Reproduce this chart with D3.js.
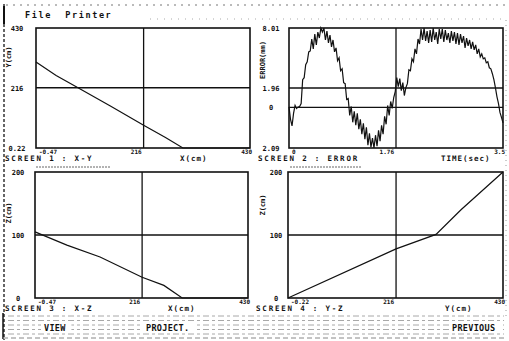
<!DOCTYPE html>
<html>
<head>
<meta charset="utf-8">
<script src="https://cdn.jsdelivr.net/npm/d3@7"></script>
<style>
	body { margin: 0; background: #fff; }
	svg { display: block; }
	text { font-family: 'DejaVu Sans Mono', monospace; font-weight: bold; fill: #111; }
</style>
</head>
<body>
<div id="screen"></div>
<script>
// screen 1 : X-Y
const xyX = [-0.47, 40, 84, 150, 216, 260, 295, 430];
const xyY = [308, 260, 216, 150, 82, 38, 0.22, 0.22];

// screen 2 : ERROR over time, one sample per step
const errorTimeMax = 3.52;
const errorValues = [
	0.05, -1.2, -1.87, -0.6, 0.2, -0.1, 0.05, 0.1, 0.4, 2.8,
	3.0, 4.3, 4.6, 5.6, 5.7, 6.9, 5.9, 7.4, 6.3, 7.6,
	7.0, 8.0, 7.6, 8.0, 6.8, 7.7, 6.5, 7.3, 6.1, 6.8,
	5.6, 6.0, 4.7, 5.0, 3.7, 3.9, 2.5, 2.4, 0.8, 0.9,
	-0.8, 0.1, -1.5, -0.4, -1.8, -0.6, -2.2, -1.2, -2.7, -1.6,
	-3.2, -2.0, -3.8, -2.6, -4.0, -3.1, -4.09, -2.8, -3.9, -2.3,
	-3.4, -1.8, -2.7, -0.9, -1.7, 0.2, -0.8, 0.6, -0.1, 1.0,
	1.6, 3.0, 2.1, 2.9, 1.7, 2.5, 1.2, 2.0, 2.4, 3.8,
	3.7, 4.9, 4.6, 5.9, 5.4, 6.9, 6.4, 7.9, 6.8, 8.0,
	6.7, 7.7, 6.5, 7.8, 6.6, 8.0, 6.8, 7.6, 6.4, 7.9,
	6.9, 7.9, 6.6, 7.8, 6.8, 7.5, 6.5, 7.7, 6.7, 7.6,
	6.4, 7.5, 6.3, 7.4, 6.5, 7.2, 6.0, 7.0, 6.2, 6.8,
	5.9, 6.6, 5.8, 6.3, 5.4, 5.9, 5.1, 5.4, 4.9, 5.0,
	4.5, 4.6, 4.0, 3.9, 3.4, 2.8, 2.0, 1.1, 0.4, -0.5,
	-1.0, -1.56
];

// screen 3 : X-Z
const xzX = [-0.47, 64, 131, 216, 260, 297, 430];
const xzZ = [105, 84, 65, 33, 20, 0, 0];

// screen 4 : Y-Z
const yzY = [-0.22, 216, 296, 346, 430];
const yzZ = [0, 78, 101, 140, 200];

// tick values and the labels printed for them
const xyXTicks = [-0.47, 216, 430], xyXLabels = ['-0.47', '216', '430'];
const xyYTicks = [0.22, 216, 430], xyYLabels = ['0.22', '216', '430'];
const errXTicks = [0, 1.76, 3.52], errXLabels = ['0', '1.76', '3.5'];
const errYTicks = [-4.09, 0, 1.96, 8.01], errYLabels = ['2.09', '0', '1.96', '8.01'];
const xzXTicks = [-0.47, 216, 430], xzXLabels = ['-0.47', '216', '430'];
const yzXTicks = [-0.22, 216, 430], yzXLabels = ['-0.22', '216', '430'];
const zTicks = [0, 100, 200], zLabels = ['0', '100', '200'];

const width = 509, height = 341;

const svg = d3.select('#screen').append('svg')
	.attr('width', width).attr('height', height);

const panels = [
	{ title: 'SCREEN 1 : X-Y', xName: 'X(cm)', yName: 'Y(cm)',
		box: [36, 250, 28, 148], xDomain: [-0.47, 430], yDomain: [0.22, 430],
		xs: xyX, ys: xyY, xTicks: xyXTicks, xLabels: xyXLabels, yTicks: xyYTicks, yLabels: xyYLabels,
		grid: [216], gridV: [216], titleX: 5, xNameX: 180, yNameX: 8, yNameY: 57, yLabelX: 17 },
	{ title: 'SCREEN 2 : ERROR', xName: 'TIME(sec)', yName: 'ERROR(mm)',
		box: [289, 503, 28, 148], xDomain: [0, 3.52], yDomain: [-4.09, 8.01],
		xs: errorValues.map((v, i) => i * errorTimeMax / (errorValues.length - 1)), ys: errorValues,
		xTicks: errXTicks, xLabels: errXLabels, yTicks: errYTicks, yLabels: errYLabels,
		grid: [0, 1.96], gridV: [1.76], titleX: 258, xNameX: 441, yNameX: 262, yNameY: 60, yLabelX: 271 },
	{ title: 'SCREEN 3 : X-Z', xName: 'X(cm)', yName: 'Z(cm)',
		box: [35, 248, 172, 298], xDomain: [-0.47, 430], yDomain: [0, 200],
		xs: xzX, ys: xzZ, xTicks: xzXTicks, xLabels: xzXLabels, yTicks: zTicks, yLabels: zLabels,
		grid: [100], gridV: [216], titleX: 5, xNameX: 168, yNameX: 8, yNameY: 213, yLabelX: 18 },
	{ title: 'SCREEN 4 : Y-Z', xName: 'Y(cm)', yName: 'Z(cm)',
		box: [288, 503, 172, 298], xDomain: [-0.22, 430], yDomain: [0, 200],
		xs: yzY, ys: yzZ, xTicks: yzXTicks, xLabels: yzXLabels, yTicks: zTicks, yLabels: zLabels,
		grid: [100], gridV: [216], titleX: 256, xNameX: 445, yNameX: 262, yNameY: 205, yLabelX: 276 },
];

// page frame and header
svg.append('line').attr('x1', 4).attr('x2', 4).attr('y1', 4).attr('y2', 340)
	.attr('stroke', '#333').attr('stroke-width', 1.5).attr('stroke-dasharray', '3,2');
svg.append('line').attr('x1', 4).attr('x2', 4).attr('y1', 6).attr('y2', 24)
	.attr('stroke', '#111').attr('stroke-width', 2);
svg.append('line').attr('x1', 506).attr('x2', 506).attr('y1', 20).attr('y2', 320)
	.attr('stroke', '#999').attr('stroke-dasharray', '1,4');
svg.append('line').attr('x1', 6).attr('x2', 505).attr('y1', 5).attr('y2', 5)
	.attr('stroke', '#777').attr('stroke-dasharray', '2,5');
svg.append('line').attr('x1', 150).attr('x2', 505).attr('y1', 19).attr('y2', 19)
	.attr('stroke', '#aaa').attr('stroke-dasharray', '1,6');
svg.append('text').attr('x', 25).attr('y', 18).attr('font-size', 8.5)
	.attr('letter-spacing', 1.6).attr('xml:space', 'preserve').text('File  Printer');

panels.forEach((p) => {
	const [l, r, t, b] = p.box;
	const x = d3.scaleLinear().domain(p.xDomain).range([l, r]);
	const y = d3.scaleLinear().domain(p.yDomain).range([b, t]);
	const g = svg.append('g');

	// grid lines
	g.selectAll('.gh').data(p.grid).join('line')
		.attr('x1', l).attr('x2', r).attr('y1', (d) => y(d)).attr('y2', (d) => y(d))
		.attr('stroke', '#111').attr('stroke-width', 1.3);
	g.selectAll('.gv').data(p.gridV).join('line')
		.attr('x1', (d) => x(d)).attr('x2', (d) => x(d)).attr('y1', t).attr('y2', b)
		.attr('stroke', '#111').attr('stroke-width', 1.3);

	// the trace
	const pts = p.xs.map((v, i) => [v, p.ys[i]]);
	g.append('path').datum(pts)
		.attr('d', d3.line().x((d) => x(d[0])).y((d) => y(d[1])))
		.attr('fill', 'none').attr('stroke', '#111').attr('stroke-width', 1.2);

	// frame
	g.append('rect').attr('x', l).attr('y', t).attr('width', r - l).attr('height', b - t)
		.attr('fill', 'none').attr('stroke', '#111').attr('stroke-width', 1.6);

	// y tick labels
	g.selectAll('.yl').data(p.yTicks).join('text')
		.attr('x', p.yLabelX).attr('y', (d) => y(d) + 3)
		.attr('text-anchor', 'middle').attr('font-size', 7)
		.text((d, i) => p.yLabels[i]);

	// x tick labels: first left, middle ends at the grid line, last ends at frame
	g.selectAll('.xl').data(p.xTicks).join('text')
		.attr('x', (d, i) => i === 0 ? x(d) + 3 : i === 1 ? x(d) - 2 : x(d) + 2)
		.attr('y', b + 5.5)
		.attr('text-anchor', (d, i) => i === 0 ? 'start' : 'end')
		.attr('font-size', 6)
		.text((d, i) => p.xLabels[i]);

	g.append('text').attr('x', p.xNameX).attr('y', b + 12.5).attr('font-size', 7.5)
		.attr('letter-spacing', 1).text(p.xName);
	g.append('text').attr('transform', `translate(${p.yNameX + 3},${p.yNameY}) rotate(-90)`)
		.attr('text-anchor', 'middle').attr('font-size', 7).text(p.yName);
	g.append('text').attr('x', p.titleX).attr('y', b + 13).attr('font-size', 7.5)
		.attr('letter-spacing', 1.8).attr('xml:space', 'preserve').text(p.title);
});

// faint underline below the upper screens
svg.append('line').attr('x1', 36).attr('x2', 110).attr('y1', 167).attr('y2', 167)
	.attr('stroke', '#666').attr('stroke-dasharray', '2,1');
svg.append('line').attr('x1', 290).attr('x2', 362).attr('y1', 167).attr('y2', 167)
	.attr('stroke', '#666').attr('stroke-dasharray', '2,1');

// menu bar
const menu = svg.append('g');
const menuRows = [316, 320.5, 325, 329.5, 334];
menu.selectAll('.row').data(menuRows).join('line')
	.attr('x1', 8).attr('x2', 504).attr('y1', (d) => d).attr('y2', (d) => d)
	.attr('stroke', '#a8a8a8').attr('stroke-width', 1).attr('stroke-dasharray', '6,3,3,3');
menu.append('line').attr('x1', 3).attr('x2', 3).attr('y1', 313).attr('y2', 339)
	.attr('stroke', '#111').attr('stroke-width', 1.5);
menu.append('line').attr('x1', 3).attr('x2', 504).attr('y1', 338).attr('y2', 338)
	.attr('stroke', '#888').attr('stroke-dasharray', '5,3');
const menuItems = [['VIEW', 44], ['PROJECT.', 146], ['PREVIOUS', 452]];
menuItems.forEach(([label, mx]) => {
	const w = label.length * 5.6 + 8;
	menu.append('rect').attr('x', mx - 3).attr('y', 322).attr('width', w).attr('height', 11).attr('fill', '#fff');
	menu.append('text').attr('x', mx).attr('y', 331).attr('font-size', 8.5).attr('letter-spacing', 0.3).text(label);
});
</script>
</body>
</html>
